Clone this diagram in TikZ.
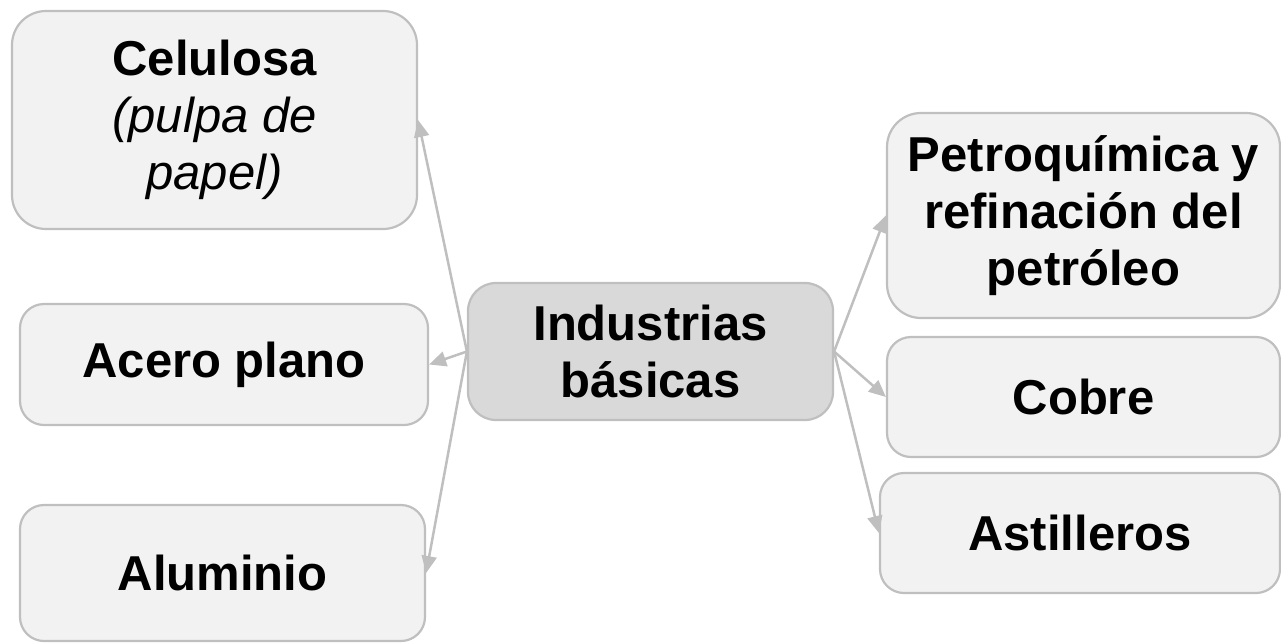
\documentclass[tikz,border=0pt]{standalone}
\usepackage{fontspec}
\setmainfont{Liberation Sans}
\usepackage{tikz}
\usetikzlibrary{arrows.meta}
\definecolor{boxfill}{HTML}{F2F2F2}
\definecolor{hubfill}{HTML}{D9D9D9}
\definecolor{edgegray}{HTML}{BFBFBF}

\begin{document}
\begin{tikzpicture}[x=1pt,y=-1pt,
    leaf/.style={draw=edgegray, fill=boxfill, line width=2.2pt, rounded corners=24pt,
      align=center, inner sep=0pt, font=\fontsize{49}{57}\selectfont\bfseries},
    hub/.style={leaf, fill=hubfill, rounded corners=28pt},
    link/.style={draw=edgegray, line width=2.5pt, -{Triangle[length=17pt,width=15pt]}}]
      \useasboundingbox (0,0) rectangle (1281,643);
      \node[hub, minimum width=365pt, minimum height=137pt] (ind) at (650.5,351.5) {Industrias\\básicas};
      \node[leaf, minimum width=405pt, minimum height=218pt, rounded corners=34pt] (cel) at (214.5,120) {Celulosa\\\textmd{\textit{(pulpa de}}\\\textmd{\textit{papel)}}};
      \node[leaf, minimum width=408pt, minimum height=121pt] (acero) at (224,364.5) {Acero plano};
      \node[leaf, minimum width=405pt, minimum height=136pt] (alu) at (222.5,573) {Aluminio};
      \node[leaf, minimum width=393pt, minimum height=205pt, rounded corners=34pt] (petro) at (1083.5,215.5) {Petroquímica y\\refinación del\\petróleo};
      \node[leaf, minimum width=393pt, minimum height=120pt] (cobre) at (1083.5,397) {Cobre};
      \node[leaf, minimum width=400pt, minimum height=120pt] (asti) at (1080,533) {Astilleros};
      % connectors
      \draw[link] (ind.west) -- (cel.east);
      \draw[link] (ind.west) -- (acero.east);
      \draw[link] (ind.west) -- (alu.east);
      \draw[link] (ind.east) -- (petro.west);
      \draw[link] (ind.east) -- (cobre.west);
      \draw[link] (ind.east) -- (asti.west);
    \end{tikzpicture}
\end{document}
